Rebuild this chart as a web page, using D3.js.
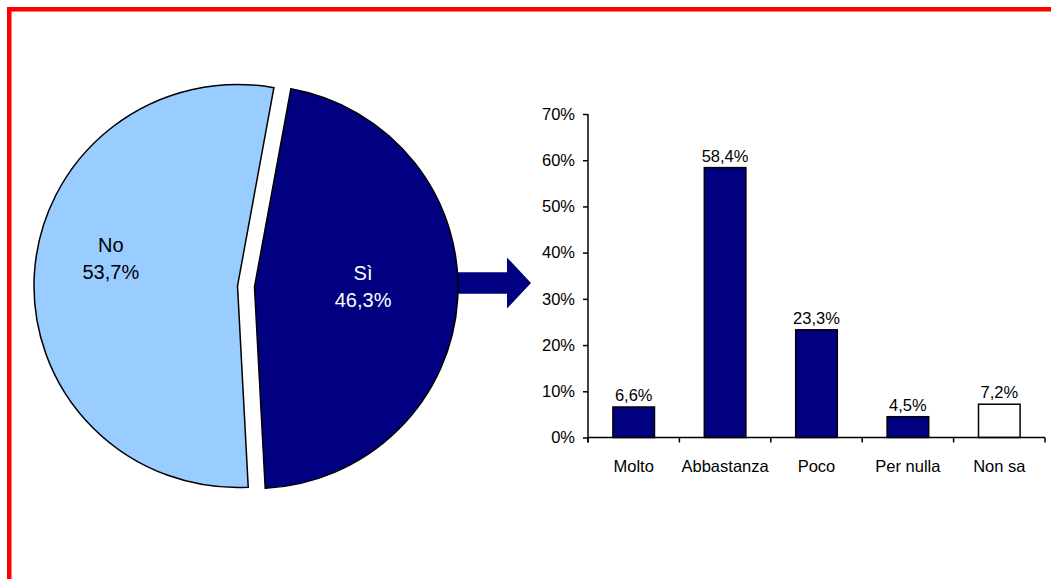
<!DOCTYPE html>
<html>
<head>
<meta charset="utf-8">
<script src="https://cdn.jsdelivr.net/npm/d3@7"></script>
<style>
  html, body { margin: 0; padding: 0; background: #fff; }
  svg { display: block; }
  text { font-family: "Liberation Sans", Arial, sans-serif; }
</style>
</head>
<body>
<svg id="chart" width="1051" height="579"></svg>
<script>
// Pie: share of respondents answering Sì / No
const pieLabels = ["Sì", "No"];
const pieValues = [46.3, 53.7];

// Bars: breakdown of the "Sì" answers
const categories = ["Molto", "Abbastanza", "Poco", "Per nulla", "Non sa"];
const barValues = [6.6, 58.4, 23.3, 4.5, 7.2];

// Y axis tick values (percent)
const yTicks = [0, 10, 20, 30, 40, 50, 60, 70];

const navy = "#000080";
const lightBlue = "#99ccff";
const itLocale = d3.formatLocale({ decimal: ",", thousands: ".", grouping: [3], currency: ["€", ""] });
const fmtValue = v => itLocale.format(".1f")(v) + "%";

const svg = d3.select("#chart");

// Red frame along the top and left edges
svg.append("rect").attr("x", 7).attr("y", 7).attr("width", 1044).attr("height", 4.5).attr("fill", "#ff0000");
svg.append("rect").attr("x", 7).attr("y", 7).attr("width", 4.5).attr("height", 572).attr("fill", "#ff0000");

// ---- Bar chart ----
const plot = { left: 588, right: 1045, top: 114, bottom: 437.5 };

const x = d3.scaleBand()
  .domain(categories)
  .range([plot.left, plot.right])
  .paddingInner(0.545)
  .paddingOuter(0.2725);

const y = d3.scaleLinear()
  .domain([0, 70])
  .range([plot.bottom, plot.top]);

// Arrow pointing from the "Sì" slice to the bar chart
const arrow = { x0: 440, shaftEnd: 507, tip: 531, cy: 283, shaftHalf: 10.8, headHalf: 25.5 };
svg.append("path")
  .attr("fill", navy)
  .attr("d", d3.line()([
    [arrow.x0, arrow.cy - arrow.shaftHalf],
    [arrow.shaftEnd, arrow.cy - arrow.shaftHalf],
    [arrow.shaftEnd, arrow.cy - arrow.headHalf],
    [arrow.tip, arrow.cy],
    [arrow.shaftEnd, arrow.cy + arrow.headHalf],
    [arrow.shaftEnd, arrow.cy + arrow.shaftHalf],
    [arrow.x0, arrow.cy + arrow.shaftHalf]
  ]) + "Z");

// Bars
svg.append("g").selectAll("rect")
  .data(categories.map((c, i) => ({ c, v: barValues[i] })))
  .join("rect")
  .attr("x", d => x(d.c))
  .attr("y", d => y(d.v))
  .attr("width", x.bandwidth())
  .attr("height", d => y(0) - y(d.v))
  .attr("fill", d => d.c === "Non sa" ? "#ffffff" : navy)
  .attr("stroke", "#000")
  .attr("stroke-width", 1.5);

// Value labels above bars
svg.append("g").selectAll("text")
  .data(categories.map((c, i) => ({ c, v: barValues[i] })))
  .join("text")
  .attr("x", d => x(d.c) + x.bandwidth() / 2)
  .attr("y", d => y(d.v) - 6)
  .attr("text-anchor", "middle")
  .attr("font-size", 16.5)
  .attr("fill", "#000")
  .text(d => fmtValue(d.v));

// Y axis
const yAxis = d3.axisLeft(y)
  .tickValues(yTicks)
  .tickSize(5)
  .tickPadding(8)
  .tickFormat(d => d + "%");
const gy = svg.append("g")
  .attr("transform", `translate(${plot.left},0)`)
  .call(yAxis);
gy.select(".domain").attr("d", `M0,${plot.top}V${plot.bottom + 5}`).attr("stroke-width", 1.5);
gy.selectAll(".tick line").attr("stroke-width", 1.5);
gy.selectAll(".tick text")
  .attr("font-size", 16.5)
  .attr("font-family", "Liberation Sans, Arial, sans-serif")
  .attr("fill", "#000");

// X axis: line with tick marks at the category boundaries
const gx = svg.append("g");
gx.append("line")
  .attr("x1", plot.left).attr("x2", plot.right)
  .attr("y1", y(0)).attr("y2", y(0))
  .attr("stroke", "#000").attr("stroke-width", 1.5);
gx.selectAll("line.tick")
  .data(d3.range(categories.length + 1))
  .join("line")
  .attr("class", "tick")
  .attr("x1", i => plot.left + i * x.step())
  .attr("x2", i => plot.left + i * x.step())
  .attr("y1", y(0)).attr("y2", y(0) + 5)
  .attr("stroke", "#000").attr("stroke-width", 1.5);
gx.selectAll("text")
  .data(categories)
  .join("text")
  .attr("x", c => x(c) + x.bandwidth() / 2)
  .attr("y", y(0) + 34)
  .attr("text-anchor", "middle")
  .attr("font-size", 16.5)
  .attr("fill", "#000")
  .text(c => c);

// ---- Exploded pie ----
const pieGeo = { cx: 246, cy: 286.5, r: 201.5, explode: 8.5, start: 10.3 * Math.PI / 180 };
const pie = d3.pie().sort(null).startAngle(pieGeo.start).endAngle(pieGeo.start + 2 * Math.PI);
const arc = d3.arc().innerRadius(0).outerRadius(pieGeo.r);
const slices = pie(pieValues);

// label placement: fraction of radius along the bisector, plus a vertical nudge
const labelPlace = [{ k: 0.54, dy: -8 }, { k: 0.63, dy: -20 }];

const gPie = svg.append("g");
slices.forEach((s, i) => {
  const mid = (s.startAngle + s.endAngle) / 2;
  const ox = pieGeo.cx + pieGeo.explode * Math.sin(mid);
  const oy = pieGeo.cy - pieGeo.explode * Math.cos(mid);
  // slightly wider than tall, as drawn
  const g = gPie.append("g").attr("transform", `translate(${ox},${oy})`);
  g.append("path")
    .attr("d", arc(s))
    .attr("transform", "scale(1.01,1)")
    .attr("fill", i === 0 ? navy : lightBlue)
    .attr("stroke", "#000")
    .attr("stroke-width", 1.5)
    .attr("stroke-linejoin", "miter");
  const lr = pieGeo.r * labelPlace[i].k;
  const lx = lr * Math.sin(mid);
  const ly = -lr * Math.cos(mid) + labelPlace[i].dy;
  const t = g.append("text")
    .attr("text-anchor", "middle")
    .attr("font-size", 20)
    .attr("fill", i === 0 ? "#fff" : "#000");
  t.append("tspan").attr("x", lx).attr("y", ly - 6).text(pieLabels[i]);
  t.append("tspan").attr("x", lx).attr("y", ly + 21).text(fmtValue(pieValues[i]));
});
</script>
</body>
</html>
